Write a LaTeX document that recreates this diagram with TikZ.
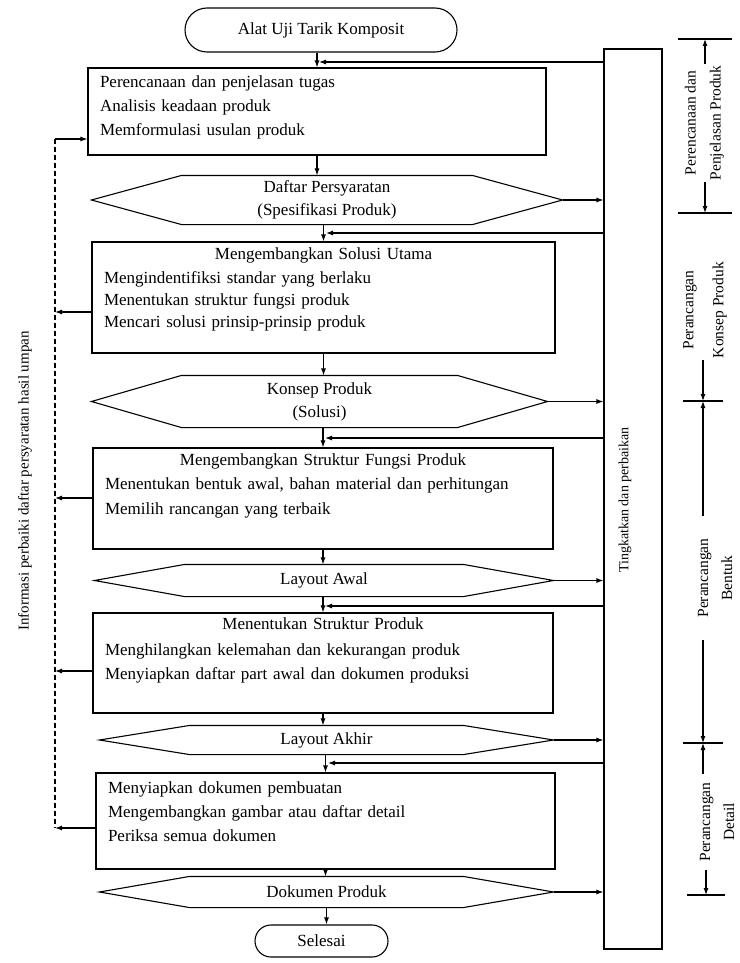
\documentclass[tikz,border=0pt]{standalone}
\usepackage{fontspec}
\setmainfont{Liberation Serif}
\usetikzlibrary{arrows.meta,positioning,calc}

\begin{document}
\begin{tikzpicture}[x=1pt, y=-1pt, line width=1.1pt,
    font=\fontsize{17}{23}\selectfont,
    arr/.style={-{Latex[length=7pt,width=5pt]}},
    term/.style={draw, inner sep=0pt},
    box/.style={draw, inner sep=0pt},
    hexa/.style={inner sep=0pt, align=center},
    txt/.style={anchor=north west, inner sep=0pt, align=left,
                font=\fontsize{17}{24}\selectfont},
    phase/.style={rotate=90, align=center, inner ysep=0pt}]
  \useasboundingbox (0,0) rectangle (739,963);

  % main flow
  \node[term, rounded corners=22pt, minimum width=272pt, minimum height=44pt] (start) at (321,30) {Alat Uji Tarik Komposit};

  \node[box, minimum width=458pt, minimum height=87pt] (b1) at (317,111.5) {};
  \node[txt, text width=434pt] (t1) at ([xshift=12pt,yshift=-7.5pt]b1.north west)
    {Perencanaan dan penjelasan tugas\\Analisis keadaan produk\\Memformulasi usulan produk};

  \node[hexa, minimum width=470pt, minimum height=48pt] (h1) at (327,200) {Daftar Persyaratan\\(Spesifikasi Produk)};

  \node[box, minimum width=463pt, minimum height=111pt] (b2) at (323.5,297.5) {};
  \node[txt, text width=439pt] (t2) at ([xshift=12pt,yshift=-5.5pt]b2.north west)
    {\makebox[\linewidth]{Mengembangkan Solusi Utama}\\Mengindentifiksi standar yang berlaku\\[-2pt]Menentukan struktur fungsi produk\\[-2pt]Mencari solusi prinsip-prinsip produk};

  \node[hexa, minimum width=455pt, minimum height=51pt] (h2) at (319.5,401.5) {Konsep Produk\\(Solusi)};

  \node[box, minimum width=460pt, minimum height=101pt] (b3) at (323,498.5) {};
  \node[txt, text width=436pt] (t3) at ([xshift=12pt,yshift=-5.5pt]b3.north west)
    {\makebox[\linewidth]{Mengembangkan Struktur Fungsi Produk}\\Menentukan bentuk awal, bahan material dan perhitungan\\[1pt]Memilih rancangan yang terbaik};

  \node[hexa, minimum width=458pt, minimum height=31pt] (h3) at (324,580.5) {Layout Awal};

  \node[box, minimum width=460pt, minimum height=100pt] (b4) at (323,663) {};
  \node[txt, text width=436pt] (t4) at ([xshift=12pt,yshift=-4.5pt]b4.north west)
    {\makebox[\linewidth]{Menentukan Struktur Produk}\\[2pt]Menghilangkan kelemahan dan kekurangan produk\\Menyiapkan daftar part awal dan dokumen produksi};

  \node[hexa, minimum width=453pt, minimum height=28pt] (h4) at (326.5,740) {Layout Akhir};

  \node[box, minimum width=459pt, minimum height=96pt] (b5) at (325.5,821) {};
  \node[txt, text width=435pt] (t5) at ([xshift=12pt,yshift=-8.5pt]b5.north west)
    {Menyiapkan dokumen pembuatan\\Mengembangkan gambar atau daftar detail\\Periksa semua dokumen};

  \node[hexa, minimum width=453pt, minimum height=30pt] (h5) at (326.5,892) {Dokumen Produk};

  \node[term, rounded corners=16pt, minimum width=133pt, minimum height=32pt] (stop) at (321.5,941) {Selesai};

  \foreach \h in {h1,h2,h3,h4,h5}
    \draw (\h.west) -- ([xshift=90pt]\h.north west) -- ([xshift=-90pt]\h.north east)
      -- (\h.east) -- ([xshift=-90pt]\h.south east) -- ([xshift=90pt]\h.south west) -- cycle;

  \draw[arr] (b1.north |- start.south) -- (b1.north);
  \draw[arr] (b1.south) -- (b1.south |- h1.north);
  \draw[arr] (b2.north |- h1.south) -- (b2.north);
  \draw[arr] (b2.south) -- (b2.south |- h2.north);
  \draw[arr] (b3.north |- h2.south) -- (b3.north);
  \draw[arr] (b3.south) -- (b3.south |- h3.north);
  \draw[arr] (b4.north |- h3.south) -- (b4.north);
  \draw[arr] (b4.south) -- (b4.south |- h4.north);
  \draw[arr] (b5.north |- h4.south) -- (b5.north);
  \draw[arr] (b5.south) -- (b5.south |- h5.north);
  \draw[arr] (h5.south) -- (h5.south |- stop.north);

  % bar on the right
  \node[box, minimum width=58pt, minimum height=900pt] (bar) at (633,499) {};
  \node[rotate=90, font=\fontsize{14}{17}\selectfont] (bartext) at (625,500) {Tingkatkan dan perbaikan};

  \coordinate (j1) at (319,62);
  \coordinate (j2) at (326,233);
  \coordinate (j3) at (325,438);
  \coordinate (j4) at (325,606);
  \coordinate (j5) at (328,763);
  \foreach \j in {j1,j2,j3,j4,j5}
    \draw[arr] (bar.west |- \j) -- (\j);
  \foreach \h in {h1,h2,h3,h4,h5}
    \draw[arr] (\h.east) -- (\h.east -| bar.west);

  % feedback on the left
  \coordinate (fbtop) at (55,139);
  \coordinate (fbend) at (55,828);
  \coordinate (l2) at (55,312);
  \coordinate (l3) at (55,498);
  \coordinate (l4) at (55,671);
  \draw[dash pattern=on 5pt off 3pt] (fbtop) -- (fbend);
  \draw[arr] (fbtop) -- (fbtop -| b1.west);
  \foreach \b/\l in {b2/l2,b3/l3,b4/l4,b5/fbend}
    \draw[arr] (\b.west |- \l) -- (\l);
  \node[rotate=90, font=\fontsize{15}{18}\selectfont] (info) at (25,481) {Informasi perbaiki daftar persyaratan hasil umpan};

  % phases
  \coordinate (k0) at (705,39);
  \coordinate (k1) at (705,213);
  \coordinate (k2) at (703,401);
  \coordinate (k3) at (703,743);
  \coordinate (k4) at (706,895);
  \foreach \k/\w in {k0/27,k1/27,k2/20,k3/20,k4/19}
    \draw ([xshift=-\w pt]\k) -- ([xshift=\w pt]\k);

  \node[phase, inner xsep=1pt, font=\fontsize{15.5}{25}\selectfont] (p1) at (704.5,123) {Perencanaan dan\\Penjelasan Produk};
  \node[phase, inner xsep=1pt, font=\fontsize{15.5}{30}\selectfont] (p2) at (705,310) {Perancangan\\Konsep Produk};
  \node[phase, inner xsep=22pt, font=\fontsize{15.5}{24}\selectfont] (p3) at (715,578) {Perancangan\\Bentuk};
  \node[phase, inner xsep=8pt, font=\fontsize{15.5}{24}\selectfont] (p4) at (717,822) {Perancangan\\Detail};

  \draw[arr] (p1.east -| k0) -- (k0);
  \draw[arr] (p1.west -| k1) -- (k1);
  \draw[arr] (p2.west -| k2) -- (k2);
  \draw[arr] (p3.east -| k2) -- (k2);
  \draw[arr] (p3.west -| k3) -- (k3);
  \draw[arr] (p4.east -| k3) -- (k3);
  \draw[arr] (p4.west -| k4) -- (k4);
\end{tikzpicture}
\end{document}
